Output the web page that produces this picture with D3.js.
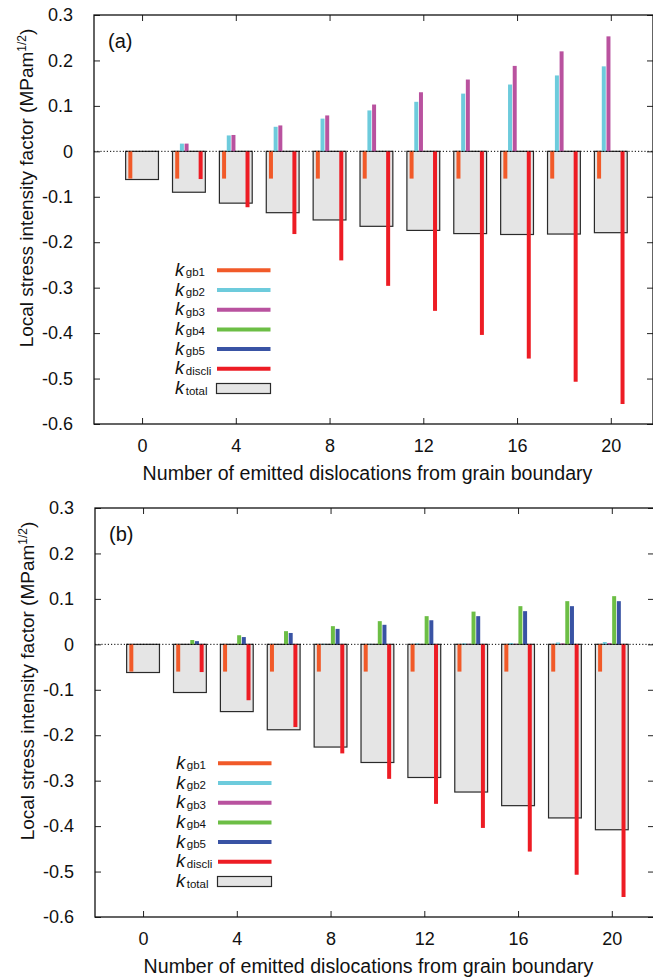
<!DOCTYPE html>
<html>
<head>
<meta charset="utf-8">
<script src="https://cdn.jsdelivr.net/npm/d3@7"></script>
<style>
  html, body { margin: 0; padding: 0; background: #fff; }
  svg { display: block; font-family: "Liberation Sans", Arial, Helvetica, sans-serif; }
</style>
</head>
<body>
<svg id="chart" width="653" height="979"></svg>
<script>
// Number of dislocations emitted from the grain boundary
const emitted = [0, 2, 4, 6, 8, 10, 12, 14, 16, 18, 20];

// Contributions to the local stress intensity factor (MPa m^1/2)
const kgb1 = [-0.060, -0.060, -0.060, -0.060, -0.060, -0.060, -0.060, -0.060, -0.060, -0.060, -0.060];
const kdiscli = [0, -0.061, -0.123, -0.182, -0.240, -0.296, -0.351, -0.404, -0.456, -0.507, -0.556];

// Panel (a)
const kgb2A = [0, 0.017, 0.035, 0.054, 0.072, 0.090, 0.109, 0.127, 0.147, 0.167, 0.187];
const kgb3A = [0, 0.017, 0.036, 0.057, 0.079, 0.103, 0.130, 0.158, 0.188, 0.220, 0.253];
const kgb4A = [0, 0, 0, 0, 0, 0, 0, 0, 0, 0, 0];
const kgb5A = [0, 0, 0, 0, 0, 0, 0, 0, 0, 0, 0];
const ktotalA = [-0.062, -0.090, -0.114, -0.135, -0.151, -0.165, -0.174, -0.181, -0.183, -0.182, -0.179];

// Panel (b)
const kgb2B = [0, 0, 0, 0, 0.001, 0.001, 0.002, 0.002, 0.003, 0.004, 0.005];
const kgb3B = [0, 0, 0, 0, 0, 0, 0, 0.001, 0.001, 0.002, 0.003];
const kgb4B = [0, 0.0095, 0.020, 0.029, 0.040, 0.051, 0.062, 0.072, 0.084, 0.095, 0.106];
const kgb5B = [0, 0.007, 0.016, 0.025, 0.034, 0.043, 0.053, 0.062, 0.073, 0.084, 0.095];
const ktotalB = [-0.062, -0.106, -0.148, -0.188, -0.226, -0.260, -0.293, -0.325, -0.355, -0.382, -0.408];

// Axis ticks
const xTickValues = [0, 4, 8, 12, 16, 20];
const yTickValues = [-0.6, -0.5, -0.4, -0.3, -0.2, -0.1, 0, 0.1, 0.2, 0.3];
const yTickLabels = ["-0.6", "-0.5", "-0.4", "-0.3", "-0.2", "-0.1", "0", "0.1", "0.2", "0.3"];

// Legend entries
const componentNames = ["gb1", "gb2", "gb3", "gb4", "gb5", "discli"];
const componentColors = ["#f15a29", "#6dcbdc", "#b9529f", "#6cbe45", "#3953a4", "#ed1c24"];

const svg = d3.select("#chart");
const W = 559, H = 409;

const x = d3.scaleLinear().domain([-2.05, 21.8]).range([0, W]);
const y = d3.scaleLinear().domain([-0.6, 0.3]).range([H, 0]);

const thinOffsets = [-0.5, -0.3, -0.1, 0.1, 0.3, 0.5];
const thinWidth = 0.17;
const boxHalf = 0.7;

function drawPanel(left, top, label, series, total) {
  const g = svg.append("g").attr("transform", `translate(${left},${top})`);

  // total bars (drawn first so the components sit on top)
  g.selectAll("rect.total").data(emitted).join("rect")
    .attr("class", "total")
    .attr("x", (d) => x(d - boxHalf))
    .attr("width", (d) => x(d + boxHalf) - x(d - boxHalf))
    .attr("y", (d, i) => y(Math.max(0, total[i])))
    .attr("height", (d, i) => Math.abs(y(total[i]) - y(0)))
    .attr("fill", "#e5e5e5")
    .attr("stroke", "#2a2a2a")
    .attr("stroke-width", 1.2);

  // component bars
  series.forEach((vals, s) => {
    g.selectAll(`rect.c${s}`).data(emitted).join("rect")
      .attr("class", `c${s}`)
      .attr("x", (d) => x(d + thinOffsets[s] - thinWidth / 2))
      .attr("width", (d) => x(d + thinOffsets[s] + thinWidth / 2) - x(d + thinOffsets[s] - thinWidth / 2))
      .attr("y", (d, i) => y(Math.max(0, vals[i])))
      .attr("height", (d, i) => Math.abs(y(vals[i]) - y(0)))
      .attr("fill", componentColors[s]);
  });

  // zero line
  g.append("line")
    .attr("x1", 0).attr("x2", W)
    .attr("y1", y(0)).attr("y2", y(0))
    .attr("stroke", "#000").attr("stroke-width", 1)
    .attr("stroke-dasharray", "1.2,2");

  // axes with inward ticks on all four sides
  const ax = (sel) => sel.selectAll("path.domain").remove();
  const xb = g.append("g").attr("transform", `translate(0,${H})`)
    .call(d3.axisBottom(x).tickValues(xTickValues).tickSizeInner(-6).tickSizeOuter(0).tickPadding(15).tickFormat(d3.format("d")));
  const xt = g.append("g")
    .call(d3.axisTop(x).tickValues(xTickValues).tickSizeInner(-6).tickSizeOuter(0).tickFormat(""));
  const yl = g.append("g")
    .call(d3.axisLeft(y).tickValues(yTickValues).tickSizeInner(-6).tickSizeOuter(0).tickPadding(21)
      .tickFormat((d, i) => yTickLabels[i]));
  const yr = g.append("g").attr("transform", `translate(${W},0)`)
    .call(d3.axisRight(y).tickValues(yTickValues).tickSizeInner(-6).tickSizeOuter(0).tickFormat(""));
  [xb, xt, yl, yr].forEach((a) => {
    ax(a);
    a.selectAll("line").attr("stroke", "#222").attr("stroke-width", 1);
    a.selectAll("text").attr("font-size", 18).attr("fill", "#111")
      .attr("font-family", "'Liberation Sans', Arial, Helvetica, sans-serif");
  });

  // frame
  g.append("rect")
    .attr("x", 0).attr("y", 0).attr("width", W).attr("height", H)
    .attr("fill", "none").attr("stroke", "#111").attr("stroke-width", 1.3);

  // panel label
  g.append("text").attr("x", 14).attr("y", 33)
    .attr("font-size", 20).attr("fill", "#111").text(label);

  // axis titles
  g.append("text")
    .attr("x", W / 2 - 6).attr("y", H + 56)
    .attr("text-anchor", "middle").attr("font-size", 19.6).attr("fill", "#111")
    .text("Number of emitted dislocations from grain boundary");

  const yt = g.append("text")
    .attr("transform", `translate(${-61},${173}) rotate(-90)`)
    .attr("text-anchor", "middle").attr("font-size", 19).attr("fill", "#111");
  yt.append("tspan").text("Local stress intensity factor (MPam");
  yt.append("tspan").attr("font-size", 12).attr("dy", -7).text("1/2");
  yt.append("tspan").attr("dy", 7).text(")");

  // legend
  const lg = g.append("g").attr("transform", "translate(81,255.3)");
  const rowH = 19.7;
  const entries = componentNames.concat(["total"]);
  entries.forEach((name, i) => {
    const row = lg.append("g").attr("transform", `translate(0,${i * rowH})`);
    const t = row.append("text").attr("x", 0).attr("y", 5.5).attr("fill", "#111");
    t.append("tspan").attr("font-style", "italic").attr("font-size", 18.5).text("k");
    t.append("tspan").attr("font-size", 11.5).attr("dx", 1.5).attr("dy", 0.5).text(name);
    if (i < componentNames.length) {
      row.append("line").attr("x1", 42).attr("x2", 95.5).attr("y1", 0).attr("y2", 0)
        .attr("stroke", componentColors[i]).attr("stroke-width", 4);
    } else {
      row.append("rect").attr("x", 41.5).attr("y", -5).attr("width", 54).attr("height", 10)
        .attr("fill", "#e5e5e5").attr("stroke", "#2a2a2a").attr("stroke-width", 1.2);
    }
  });
}

drawPanel(94, 15, "(a)", [kgb1, kgb2A, kgb3A, kgb4A, kgb5A, kdiscli], ktotalA);
drawPanel(95, 508, "(b)", [kgb1, kgb2B, kgb3B, kgb4B, kgb5B, kdiscli], ktotalB);
</script>
</body>
</html>
